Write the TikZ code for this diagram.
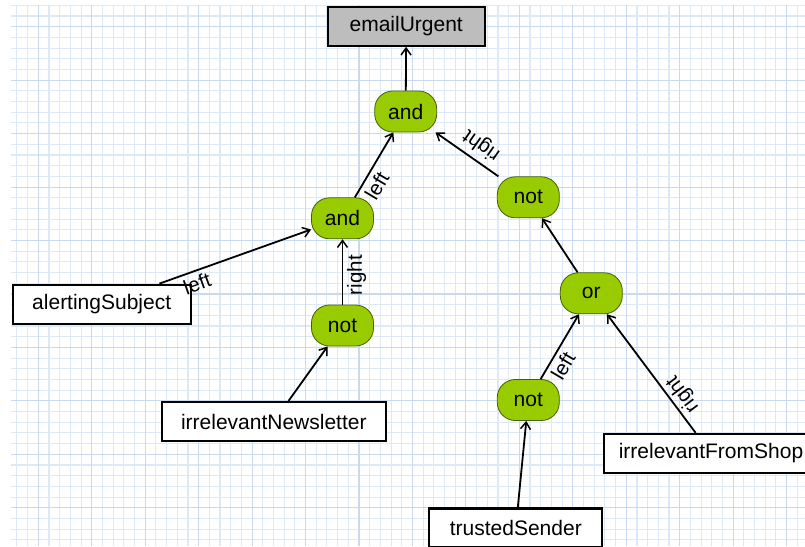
\documentclass[tikz,border=0pt]{standalone}
\usepackage{fontspec}
\setmainfont{Liberation Sans}
\usetikzlibrary{arrows.meta}
\definecolor{gridminor}{RGB}{222,233,247}
\definecolor{gridmajor}{RGB}{200,217,240}
\definecolor{opgreen}{RGB}{153,204,0}
\definecolor{opborder}{RGB}{70,95,0}
\definecolor{headgray}{RGB}{189,189,189}

\begin{document}
\begin{tikzpicture}[x=1pt,y=-1pt,
  conn/.style={line width=1.8pt, -{Straight Barb[length=7pt,width=10pt,line width=1.5pt]}},
  varbox/.style={draw=black, line width=2.2pt, fill=white, minimum height=39pt,
    inner sep=0pt, font=\fontsize{21}{25}\selectfont},
  opnode/.style={draw=opborder, line width=0.8pt, fill=opgreen, rounded corners=18pt,
    minimum width=62pt, minimum height=41pt, inner sep=0pt, font=\fontsize{21}{25}\selectfont},
  edgelabel/.style={sloped, allow upside down, anchor=center, inner sep=0pt,
    font=\fontsize{20.5}{24}\selectfont},
]
\useasboundingbox (0,0) rectangle (805,546);
\fill[white] (0,0) rectangle (805,546);

% graph paper
\begin{scope}
  \clip (11,5) rectangle (805,546);
  \foreach \i in {-2,...,72} {
    \draw[gridminor, line width=1.1pt] ({38.3+\i*10.69},0) -- ({38.3+\i*10.69},546);
  }
  \foreach \j in {-2,...,50} {
    \draw[gridminor, line width=1.1pt] (0,{26.7+\j*10.69}) -- (805,{26.7+\j*10.69});
  }
  \foreach \i in {0,5,...,70} {
    \draw[gridmajor, line width=1.1pt] ({38.3+\i*10.69},0) -- ({38.3+\i*10.69},546);
  }
  \foreach \j in {0,5,...,50} {
    \draw[gridmajor, line width=1.1pt] (0,{26.7+\j*10.69}) -- (805,{26.7+\j*10.69});
  }
\end{scope}

% result and operators
\node[varbox, fill=headgray, minimum width=157pt] (urgent) at (406.2,26.2) {emailUrgent};
\node[opnode] (andtop) at (405.7,111.5) {and};
\node[opnode] (andmid) at (342.5,218.3) {and};
\node[opnode] (notmid) at (342.5,325.5) {not};
\node[opnode] (notup) at (528.3,197.3) {not};
\node[opnode] (or) at (591.3,293.3) {or};
\node[opnode] (notlow) at (528.3,400) {not};

% input variables
\node[varbox, minimum width=178pt] (alert) at (101.7,304.2) {alertingSubject};
\node[varbox, minimum width=224pt] (news) at (273.8,421.5) {irrelevantNewsletter};
\node[varbox, minimum width=214pt] (shop) at (711,453.4) {irrelevantFromShop};
\node[varbox, minimum width=173pt] (trusted) at (515.8,528) {trustedSender};

% connectors
\draw[conn] (andtop) -- (urgent);
\draw[conn] (andmid) -- node[edgelabel, pos=0.28, yshift=-13pt] {left} (andtop);
\draw[conn] (alert) -- node[edgelabel, pos=0.22, yshift=-12.8pt] {left} (andmid);
\draw[conn] (notmid) -- node[edgelabel, pos=0.45, yshift=-14pt] {right} (andmid);
\draw[conn] (news) -- (notmid);
\draw[conn] (notup) -- node[edgelabel, pos=0.41, yshift=-16pt] {right} (andtop);
\draw[conn] (or) -- (notup);
\draw[conn] (notlow) -- node[edgelabel, pos=0.30, yshift=-12.5pt] {left} (or);
\draw[conn] (shop) -- node[edgelabel, pos=0.26, yshift=-12.8pt] {right} (or);
\draw[conn] (trusted) -- (notlow);
\end{tikzpicture}
\end{document}
